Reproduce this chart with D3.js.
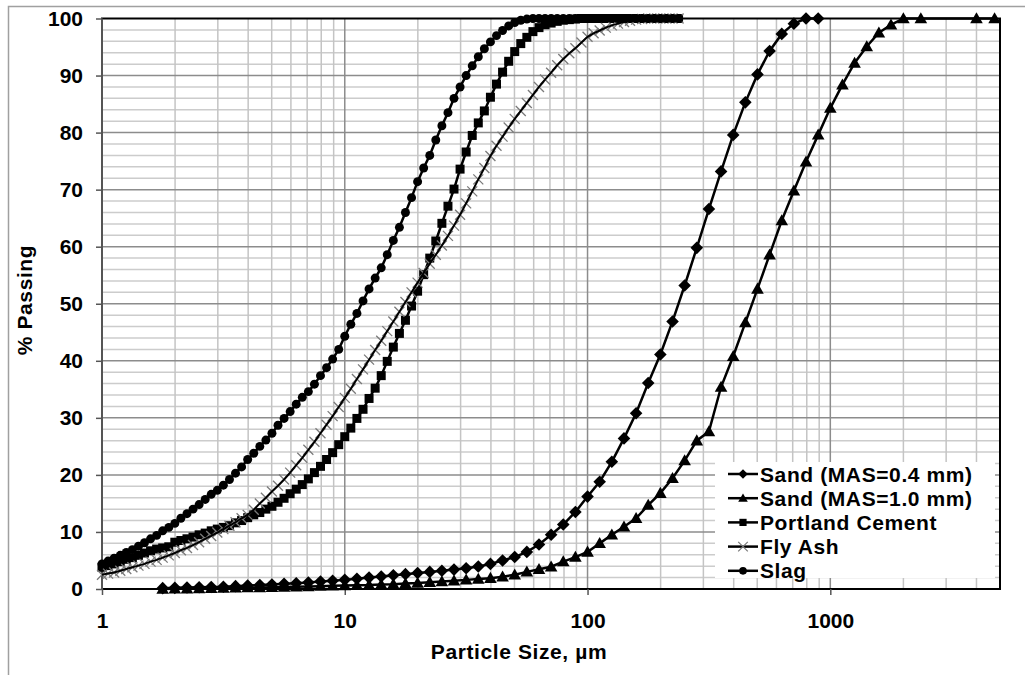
<!DOCTYPE html>
<html>
<head>
<meta charset="utf-8">
<script src="https://cdn.jsdelivr.net/npm/d3@7"></script>
<style>
body { margin: 0; background: #fff; }
text { font-family: "Liberation Sans", Arial, sans-serif; font-weight: bold; fill: #000; }
</style>
</head>
<body>
<svg id="viz" width="1025" height="675"></svg>
<script>
// laser sizes for the fine powders (um)
var fineSizes = [1.000,1.059,1.122,1.189,1.259,1.334,1.413,1.496,1.585,1.679,1.778,1.884,1.995,2.113,2.239,2.371,2.512,2.661,2.818,2.985,
  3.162,3.350,3.548,3.758,3.981,4.217,4.467,4.732,5.012,5.309,5.623,5.957,6.310,6.683,7.079,7.499,7.943,8.414,8.913,9.441,
  10.00,10.59,11.22,11.89,12.59,13.34,14.13,14.96,15.85,16.79,17.78,18.84,19.95,21.13,22.39,23.71,25.12,26.61,28.18,29.85,
  31.62,33.50,35.48,37.58,39.81,42.17,44.67,47.32,50.12,53.09,56.23,59.57,63.10,66.83,70.79,74.99,79.43,84.14,89.13,94.41,
  100.0,105.9,112.2,118.9,125.9,133.4,141.3,149.6,158.5,167.9,177.8,188.4,199.5,211.3,223.9,237.1];

var slag = [4.4,4.9,5.4,5.9,6.4,6.9,7.5,8.1,8.8,9.4,10.2,10.8,11.5,12.4,13.2,14.0,14.8,15.7,16.6,17.3,
  18.2,19.2,20.3,21.4,22.7,23.8,25.0,26.1,27.3,28.7,29.9,31.1,32.4,33.6,34.6,35.9,37.4,38.8,40.3,42.0,
  44.3,46.4,48.3,50.5,52.6,54.5,56.3,58.6,61.1,63.4,66.0,68.6,71.4,73.8,76.0,78.7,81.2,83.5,86.0,88.0,
  90.0,91.7,93.3,94.7,95.9,97.0,97.9,98.7,99.3,99.7,99.9,100,100,100,100,100,100,100,100,100,
  100,100,100,100,100,100,100,100,100,100,100,100,100,100,100,100];

var portlandCement = [3.8,4.1,4.4,4.8,5.2,5.5,5.9,6.3,6.7,7.0,7.2,7.4,8.2,8.5,8.8,9.1,9.5,9.8,10.2,10.5,
  10.8,11.1,11.6,12.0,12.5,13.0,13.4,14.0,14.5,15.2,15.9,16.7,17.5,18.3,19.3,20.4,21.5,22.7,23.9,25.3,
  26.7,28.2,29.9,31.5,33.4,35.2,37.4,39.9,42.4,44.8,47.1,49.6,52.2,55.1,58.0,61.0,64.1,67.1,70.1,73.6,
  76.6,79.5,81.7,83.8,86.2,88.5,90.6,92.5,94.2,95.6,96.7,97.7,98.4,98.9,99.2,99.5,99.7,99.8,99.9,100,
  100,100,100,100,100,100,100,100,100,100,100,100,100,100,100,100];

var flyAsh = [2.5,2.7,2.9,3.2,3.5,3.8,4.1,4.4,4.8,5.1,5.5,5.9,6.3,6.8,7.2,7.7,8.2,8.8,9.3,9.9,
  10.5,11.1,11.7,12.4,13.0,13.9,15.0,16.0,17.1,18.1,19.2,20.4,21.7,23.0,24.4,25.8,27.3,28.8,30.3,31.9,
  33.5,35.1,36.8,38.5,40.2,41.9,43.5,45.2,46.9,48.6,50.3,52.0,53.7,55.4,57.0,58.6,60.2,61.9,63.7,65.6,
  67.6,69.7,71.8,73.8,75.9,77.7,79.3,80.9,82.4,83.8,85.2,86.6,88.0,89.3,90.5,91.8,92.9,93.9,94.8,95.8,
  96.8,97.4,97.9,98.4,98.8,99.1,99.4,99.6,99.8,99.9,100,100,100,100,100,100];

// sand sizes (um): laser bins, then sieve openings
var sandSizes = [1.778,1.995,2.239,2.512,2.818,3.162,3.548,3.981,4.467,5.012,5.623,6.310,7.079,7.943,8.913,
  10.00,11.22,12.59,14.13,15.85,17.78,19.95,22.39,25.12,28.18,31.62,35.48,39.81,44.67,50.12,56.23,63.10,70.79,79.43,89.13,
  100.0,112.2,125.9,141.3,158.5,177.8,199.5,223.9,251.2,281.8,316.2,354.8,398.1,446.7,501.2,562.3,631.0,707.9,794.3,891.3,
  1000,1122,1259,1413,1585,1778,2000,2360,4000,4750];

var sand04 = [0.15,0.2,0.25,0.3,0.35,0.4,0.5,0.6,0.7,0.8,0.9,1.0,1.15,1.3,1.45,
  1.6,1.8,2.0,2.2,2.4,2.6,2.8,3.0,3.2,3.4,3.65,3.95,4.4,5.0,5.6,6.5,7.8,9.5,11.3,13.5,
  16.2,18.8,22.3,26.4,30.8,36.1,41.1,46.9,53.2,59.8,66.6,73.2,79.6,85.3,90.2,94.3,97.3,99.1,100,100];

var sand10 = [0.0,0.03,0.06,0.1,0.13,0.17,0.2,0.24,0.28,0.32,0.36,0.4,0.45,0.5,0.55,
  0.6,0.65,0.7,0.8,0.85,0.95,1.05,1.2,1.3,1.45,1.6,1.75,1.9,2.15,2.5,3.0,3.45,3.9,4.8,5.6,
  6.5,8.0,9.5,10.9,12.4,14.7,16.8,19.4,22.5,26.0,27.6,35.4,40.8,46.7,52.6,58.6,64.6,69.8,74.9,79.6,
  84.3,88.4,92.2,95.1,97.5,98.9,100,100,100,100];

var seriesNames = ["Sand (MAS=0.4 mm)", "Sand (MAS=1.0 mm)", "Portland Cement", "Fly Ash", "Slag"];
var xTickLabels = [1, 10, 100, 1000];
var yTickLabels = [0, 10, 20, 30, 40, 50, 60, 70, 80, 90, 100];

function pairs(sizes, vals) {
  return vals.map(function(v, i){ return {size: sizes[i], pct: v}; });
}

var series = [
  {name: seriesNames[0], marker: "diamond", data: pairs(sandSizes, sand04)},
  {name: seriesNames[1], marker: "triangle", data: pairs(sandSizes, sand10)},
  {name: seriesNames[2], marker: "square", data: pairs(fineSizes, portlandCement)},
  {name: seriesNames[3], marker: "cross", data: pairs(fineSizes, flyAsh)},
  {name: seriesNames[4], marker: "circle", data: pairs(fineSizes, slag)}
];

var margin = {top: 18.5, right: 25, bottom: 86, left: 102}
  , width = 1025 - margin.left - margin.right
  , height = 675 - margin.top - margin.bottom;

var xScale = d3.scaleLog().domain([1, 5000]).range([0, width]);
var yScale = d3.scaleLinear().domain([0, 100]).range([height, 0]);

var root = d3.select("#viz");

// outer chart frame (only top and left edges are in view)
root.append("path")
    .attr("d", "M8.5,675 V6.5 H1025")
    .attr("fill", "none")
    .attr("stroke", "#a0a0a0")
    .attr("stroke-width", 1.5);

var svg = root.append("g")
    .attr("transform", "translate(" + margin.left + "," + margin.top + ")");

// minor gridlines
svg.append("g").selectAll("line")
    .data(d3.range(0, 101, 2).filter(function(d){ return d % 10 !== 0; }))
    .enter().append("line")
    .attr("x1", 0).attr("x2", width)
    .attr("y1", function(d){ return yScale(d); })
    .attr("y2", function(d){ return yScale(d); })
    .attr("stroke", "#cccccc").attr("stroke-width", 1.5);

svg.append("g").selectAll("line")
    .data(xScale.ticks().filter(function(d){ return xTickLabels.indexOf(d) < 0 && d < 5000; }))
    .enter().append("line")
    .attr("x1", function(d){ return xScale(d); })
    .attr("x2", function(d){ return xScale(d); })
    .attr("y1", 0).attr("y2", height)
    .attr("stroke", "#c4c4c4").attr("stroke-width", 1.5);

// major gridlines
svg.append("g").selectAll("line")
    .data(yTickLabels.slice(1, -1))
    .enter().append("line")
    .attr("x1", 0).attr("x2", width)
    .attr("y1", function(d){ return yScale(d); })
    .attr("y2", function(d){ return yScale(d); })
    .attr("stroke", "#8c8c8c").attr("stroke-width", 1.5);

svg.append("g").selectAll("line")
    .data(xTickLabels.slice(1))
    .enter().append("line")
    .attr("x1", function(d){ return xScale(d); })
    .attr("x2", function(d){ return xScale(d); })
    .attr("y1", 0).attr("y2", height)
    .attr("stroke", "#8c8c8c").attr("stroke-width", 1.5);

// plot border
svg.append("path")
    .attr("d", "M0," + height + " V0 H" + width + " V" + height + " H0")
    .attr("fill", "none").attr("stroke", "#000").attr("stroke-width", 2);
svg.append("line")
    .attr("x1", 0).attr("x2", 0).attr("y1", 0).attr("y2", height)
    .attr("stroke", "#555").attr("stroke-width", 2);

// axes
var yAxis = svg.append("g")
    .call(d3.axisLeft(yScale).tickValues(yTickLabels).tickSize(6).tickPadding(13));
var xAxis = svg.append("g")
    .attr("transform", "translate(0," + height + ")")
    .call(d3.axisBottom(xScale).tickValues(xTickLabels).tickFormat(d3.format("d")).tickSize(6).tickPadding(18));

[yAxis, xAxis].forEach(function(ax){
  ax.select(".domain").remove();
  ax.selectAll("line").attr("stroke", "#555").attr("stroke-width", 1.5);
  ax.selectAll("text")
      .attr("font-size", "21px")
      .attr("font-family", "Liberation Sans, Arial, sans-serif")
      .attr("font-weight", "bold");
});

svg.append("text")
    .attr("transform", "translate(" + (32 - margin.left) + "," + (300 - margin.top) + ") rotate(-90)")
    .attr("text-anchor", "middle")
    .attr("font-size", "21px")
    .attr("letter-spacing", "0.6px")
    .text("% Passing");

svg.append("text")
    .attr("x", 519 - margin.left)
    .attr("y", 659 - margin.top)
    .attr("text-anchor", "middle")
    .attr("font-size", "21px")
    .attr("letter-spacing", "0.6px")
    .text("Particle Size, \u00b5m");

// markers
function markerPath(type, s) {
  if (type === "diamond") return "M0," + (-s) + " L" + s + ",0 L0," + s + " L" + (-s) + ",0Z";
  if (type === "triangle") return "M0," + (-s) + " L" + s + "," + (s * 0.75) + " L" + (-s) + "," + (s * 0.75) + "Z";
  if (type === "square") return "M" + (-s * 0.75) + "," + (-s * 0.75) + " h" + (s * 1.5) + " v" + (s * 1.5) + " h" + (-s * 1.5) + "Z";
  if (type === "cross") return "M" + (-s) + "," + (-s) + " L" + s + "," + s + " M" + s + "," + (-s) + " L" + (-s) + "," + s;
  return d3.symbol(d3.symbolCircle, Math.PI * s * s * 0.64)();
}

var markerSize = {diamond: 6.3, triangle: 6.3, square: 6, cross: 5, circle: 5.6};

var line = d3.line()
    .x(function(d){ return xScale(d.size); })
    .y(function(d){ return yScale(d.pct); });

function drawMarkers(s) {
  svg.selectAll(".pt-" + s.marker)
      .data(s.data).enter().append("path")
      .attr("class", "pt-" + s.marker)
      .attr("transform", function(d){ return "translate(" + xScale(d.size) + "," + yScale(d.pct) + ")"; })
      .attr("d", markerPath(s.marker, markerSize[s.marker]))
      .attr("fill", s.marker === "cross" ? "none" : "#000")
      .attr("stroke", s.marker === "cross" ? "#7a7a7a" : "none")
      .attr("stroke-width", 1.3);
}

series.forEach(function(s){
  var isCross = s.marker === "cross";
  if (isCross) drawMarkers(s);
  svg.append("path")
      .datum(s.data)
      .attr("fill", "none")
      .attr("stroke", "#000")
      .attr("stroke-width", isCross ? 2 : 2.5)
      .attr("d", line);
  if (!isCross) drawMarkers(s);
});

// legend
var legend = svg.append("g")
    .attr("transform", "translate(" + (715 - margin.left) + "," + (462 - margin.top) + ")");

legend.append("rect")
    .attr("width", 280).attr("height", 116)
    .attr("fill", "#fff");

var items = legend.selectAll(".item")
    .data(series).enter().append("g")
    .attr("class", "item")
    .attr("transform", function(d, i){ return "translate(0," + (12 + i * 24.2) + ")"; });

items.append("line")
    .attr("x1", 13).attr("x2", 43)
    .attr("stroke", "#000").attr("stroke-width", 2.5);

items.append("path")
    .attr("transform", "translate(28,0)")
    .attr("d", function(d){ return markerPath(d.marker, 4.8); })
    .attr("fill", function(d){ return d.marker === "cross" ? "none" : "#000"; })
    .attr("stroke", function(d){ return d.marker === "cross" ? "#7a7a7a" : "none"; })
    .attr("stroke-width", 1.2);

items.append("text")
    .attr("x", 45)
    .attr("dy", "0.36em")
    .attr("font-size", "21px")
    .attr("letter-spacing", "0.6px")
    .text(function(d){ return d.name; });
</script>
</body>
</html>
